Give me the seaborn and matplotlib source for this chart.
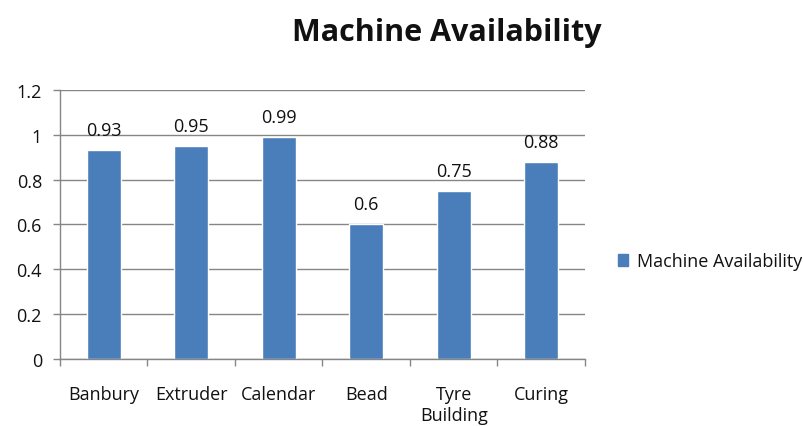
import matplotlib
matplotlib.use("Agg")
import matplotlib.pyplot as plt
import seaborn as sns
import pandas as pd
import numpy as np
from matplotlib.patches import Patch

categories = ["Banbury", "Extruder", "Calendar", "Bead", "Tyre\nBuilding", "Curing"]
availability = [0.93, 0.95, 0.99, 0.6, 0.75, 0.88]
series_name = "Machine Availability"

df = pd.DataFrame({"machine": categories, "value": availability})

sns.set_style("white")
plt.rcParams["font.family"] = ["Open Sans", "DejaVu Sans"]

bar_color = "#4A7EBB"
grid_color = "#868686"

fig = plt.figure(figsize=(8.04, 4.27), dpi=100)
ax = fig.add_axes([0.0746, 0.157, 0.653, 0.630])

sns.barplot(data=df, x="machine", y="value", color=bar_color, width=0.39,
            saturation=1, ax=ax)

ax.bar_label(ax.containers[0], labels=[str(v) for v in availability],
             padding=8, fontsize=13, color="#111111")

ax.set_ylim(0, 1.2)
ax.set_yticks([0, 0.2, 0.4, 0.6, 0.8, 1.0, 1.2])
ax.set_yticklabels(["0", "0.2", "0.4", "0.6", "0.8", "1", "1.2"])
ax.yaxis.grid(True, color=grid_color, linewidth=1)
ax.set_axisbelow(True)
ax.set_xlabel("")
ax.set_ylabel("")
for s in ["top", "right"]:
    ax.spines[s].set_visible(False)
for s in ["left", "bottom"]:
    ax.spines[s].set_color(grid_color)
    ax.spines[s].set_linewidth(1)
ax.tick_params(axis="y", left=True, length=5, width=1, color=grid_color,
               labelsize=13, pad=8, labelcolor="#111111")
ax.set_xlim(-0.5, len(categories) - 0.5)
ax.set_xticks(np.arange(-0.5, len(categories), 1.0), minor=True)
ax.tick_params(axis="x", which="major", bottom=False, length=0, labelsize=13,
               pad=19, labelcolor="#111111")
ax.tick_params(axis="x", which="minor", bottom=True, length=5, width=1,
               color=grid_color, direction="out")

fig.text(0.556, 0.922, series_name, ha="center", va="center",
         fontsize=22, fontweight="bold", color="#111111")

fig.legend(handles=[Patch(color=bar_color, label=series_name)],
           loc="center left", bbox_to_anchor=(0.757, 0.386), frameon=False,
           fontsize=13, handlelength=0.6, handleheight=0.6, handletextpad=0.45,
           borderpad=0, labelcolor="#111111")

fig.savefig("out.png", dpi=100)
